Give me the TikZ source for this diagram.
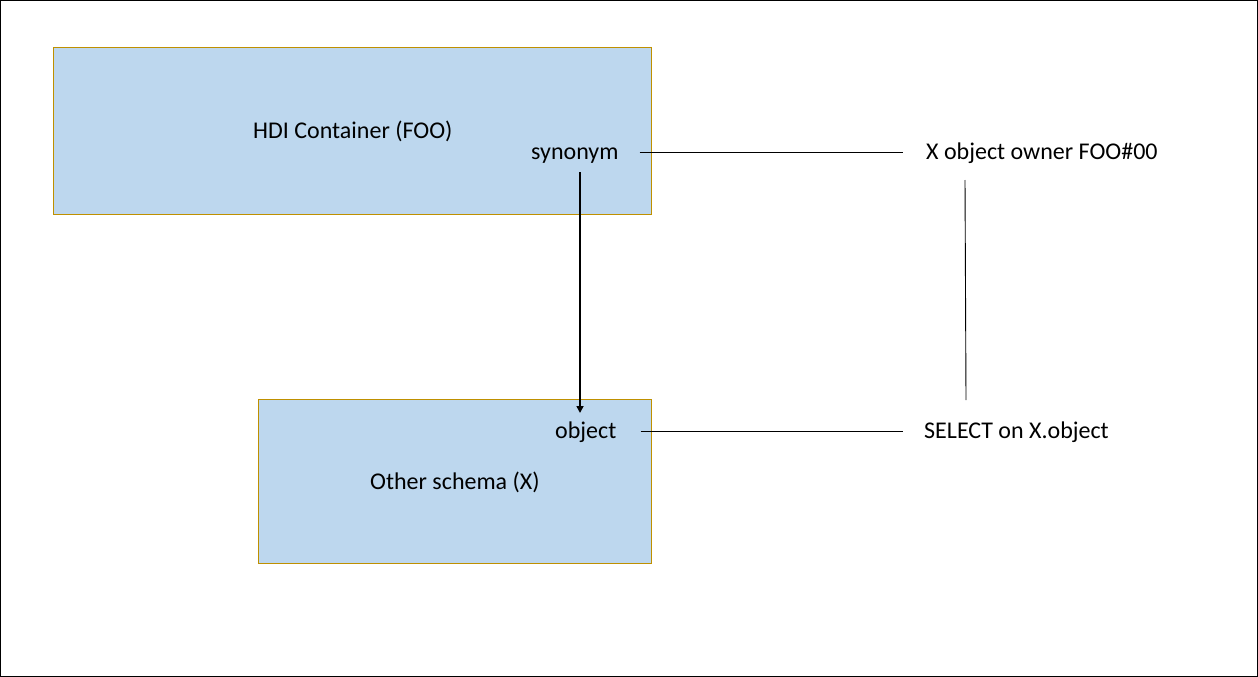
\documentclass[tikz,border=0pt]{standalone}
\usepackage{fontspec}
\setmainfont{Carlito}
\usetikzlibrary{arrows.meta}
\definecolor{boxfill}{HTML}{BDD7EE}
\definecolor{boxedge}{HTML}{BF9000}
\tikzset{
  box/.style={draw=boxedge, fill=boxfill, line width=1pt, anchor=north west, inner sep=0pt},
  lbl/.style={inner sep=0pt, anchor=base west, text height=18pt, text depth=4pt, font=\fontsize{24}{28}\selectfont},
  conn/.style={line width=1pt, black},
  arr/.style={line width=1.6pt, black, -{Triangle[length=7pt,width=7pt]}}
}
\begin{document}
\begin{tikzpicture}[x=1pt,y=-1pt]
\useasboundingbox (0,0) rectangle (1258,677);
\fill[white] (0,0) rectangle (1258,677);
\draw[line width=1pt] (0.5,0.5) rectangle (1257.5,676.5);
\node[box, minimum width=598pt, minimum height=167pt] (hdi) at (53,47) {};
\node[box, minimum width=393pt, minimum height=164pt] (oth) at (258,399) {};
\node[lbl] (hdit) at (253,138) {HDI Container (FOO)};
\node[lbl] (syn) at (531,159) {synonym};
\node[lbl] (obj) at (555,438) {object};
\node[lbl] (otht) at (370,489) {Other schema (X)};
\node[lbl] (own) at (926,159) {X object owner FOO\#00};
\node[lbl] (sel) at (924,438) {SELECT on X.object};
\coordinate (a1) at (580,172);
\coordinate (a2) at (580,413);
\coordinate (v1) at (965,180);
\coordinate (v2) at (966,400);
\draw[conn, shorten <=21pt, shorten >=23pt] (syn.east) -- (syn.east -| own.west);
\draw[conn, shorten <=24pt, shorten >=21pt] (obj.east) -- (obj.east -| sel.west);
\draw[arr] (a1) -- (a2);
\draw[line width=0.9pt] (v1) -- (v2);
\end{tikzpicture}
\end{document}
